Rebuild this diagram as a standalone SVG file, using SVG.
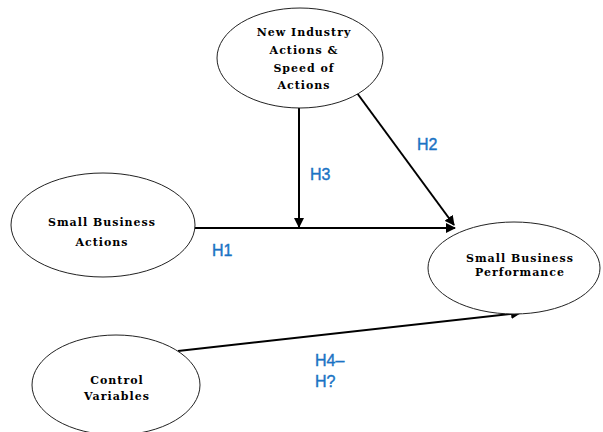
<svg xmlns="http://www.w3.org/2000/svg" width="603" height="432" viewBox="0 0 603 432">
<style>
.node{fill:#fff;stroke:#222;stroke-width:1}
.nt{font-family:"DejaVu Serif","Liberation Serif",serif;font-weight:bold;font-size:11px;letter-spacing:1px;fill:#000;text-anchor:middle}
.lbl{font-family:"Liberation Sans",Arial,sans-serif;font-size:16px;fill:#1a73c4;stroke:#1a73c4;stroke-width:0.4}
.edge{stroke:#000;stroke-width:2;fill:none;marker-end:url(#ah)}
</style>
<defs>
<marker id="ah" viewBox="0 0 10 10" refX="9" refY="5" markerWidth="5" markerHeight="5" orient="auto" markerUnits="strokeWidth">
<path d="M0,0 L10,5 L0,10 z" fill="#000"/>
</marker>
</defs>
<rect width="603" height="432" fill="#fff"/>
<g id="edges">
<line class="edge" x1="195" y1="228" x2="455" y2="228"/>
<line class="edge" x1="357" y1="93" x2="454" y2="225"/>
<line class="edge" x1="299" y1="108" x2="299" y2="227"/>
<line class="edge" x1="178" y1="351" x2="520" y2="313"/>
</g>
<g id="n-new-industry">
<ellipse class="node" cx="300" cy="58" rx="83" ry="50"/>
<text class="nt" x="304" y="36">New Industry</text>
<text class="nt" x="304" y="54">Actions &amp;</text>
<text class="nt" x="304" y="72">Speed of</text>
<text class="nt" x="304" y="89">Actions</text>
</g>
<g id="n-small-actions">
<ellipse class="node" cx="103" cy="225" rx="92" ry="52"/>
<text class="nt" x="102" y="226">Small Business</text>
<text class="nt" x="102" y="246">Actions</text>
</g>
<g id="n-performance">
<ellipse class="node" cx="514" cy="268" rx="86" ry="46"/>
<text class="nt" x="520" y="262">Small Business</text>
<text class="nt" x="520" y="276">Performance</text>
</g>
<g id="n-control">
<ellipse class="node" cx="116" cy="385" rx="84" ry="50"/>
<text class="nt" x="117" y="384">Control</text>
<text class="nt" x="117" y="400">Variables</text>
</g>
<g id="labels">
<text class="lbl" x="310" y="180">H3</text>
<text class="lbl" x="417" y="150">H2</text>
<text class="lbl" x="212" y="256">H1</text>
<text class="lbl" x="315" y="366">H4–</text>
<text class="lbl" x="315" y="387">H?</text>
</g>
</svg>
